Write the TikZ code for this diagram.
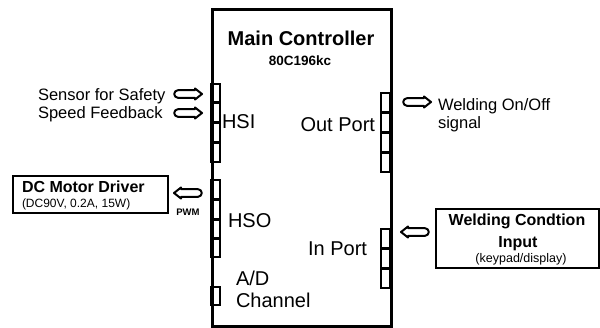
\documentclass[tikz,border=0pt]{standalone}
\usepackage{fontspec}
\setmainfont{Liberation Sans}
\newcommand\fsz[1]{\fontsize{#1}{#1}\selectfont}
\tikzset{
  lbl/.style={inner sep=0pt, outer sep=0pt},
  mainbox/.style={draw, line width=3pt},
  sidebox/.style={draw, line width=1.8pt},
  pinrect/.style={draw, line width=1.6pt},
  barrow/.pic={\draw[line width=2pt, line join=round]
     (5,-3.8) -- (22,-3.8) -- (22,-5.5) -- (29,0) -- (22,5.5) -- (22,3.8) -- (5,3.8)
     arc[start angle=90, end angle=270, radius=3.8] -- cycle;}
}
\begin{document}
\begin{tikzpicture}[x=1pt,y=-1pt]
\useasboundingbox (0,0) rectangle (600,327);
% main controller
\node[mainbox, minimum width=179pt, minimum height=317pt, anchor=north west, inner sep=0pt] (mc) at (211,8) {};
\node[lbl, anchor=base, font=\fsz{20}\bfseries] (title) at (301,45) {Main Controller};
\node[lbl, anchor=base, font=\fsz{13.5}\bfseries] (chip) at (300,65) {80C196kc};
% pins left
\foreach \a/\b in {84/102,103/122,123/142,143/162,180/199,200/219,220/238,239/257,287/305}
  \draw[pinrect] (211,\a) rectangle (220,\b);
% pins right
\foreach \a/\b in {93/112,113/132,133/152,153/172,229/248,249/268,269/288}
  \draw[pinrect] (381,\a) rectangle (390,\b);
% port labels
\node[lbl, anchor=base west, font=\fsz{20}] (hsi) at (222,128) {HSI};
\node[lbl, anchor=base east, font=\fsz{20}] (outp) at (375,131) {Out Port};
\node[lbl, anchor=base west, font=\fsz{20}] (hso) at (228,227) {HSO};
\node[lbl, anchor=base east, font=\fsz{20}] (inp) at (367,255) {In Port};
\node[lbl, anchor=base west, font=\fsz{20}] (ad) at (236,285) {A/D};
\node[lbl, anchor=base west, font=\fsz{20}] (chan) at (236,307) {Channel};
% left inputs
\node[lbl, anchor=base west, font=\fsz{16.5}] (sens) at (38,100) {Sensor for Safety};
\node[lbl, anchor=base west, font=\fsz{16.5}] (speed) at (38,118) {Speed Feedback};
\coordinate (a1) at (173,94);
\coordinate (a2) at (173,113);
\pic at (a1) {barrow};
\pic at (a2) {barrow};
% output signal
\coordinate (a3) at (402,102);
\pic at (a3) {barrow};
\node[lbl, anchor=base west, font=\fsz{16.5}] (weld) at (438,110) {Welding On/Off};
\node[lbl, anchor=base west, font=\fsz{16.5}] (sig) at (438,128) {signal};
% DC motor driver
\node[sidebox, minimum width=155pt, minimum height=37pt, anchor=north west, inner sep=0pt] (dcbox) at (12,175) {};
\node[lbl, anchor=base west, font=\fsz{16}\bfseries] (dct) at (22,192) {DC Motor Driver};
\node[lbl, anchor=base west, font=\fsz{12}] (dcs) at (22,207) {(DC90V, 0.2A, 15W)};
\coordinate (a4) at (203,193);
\pic[xscale=-1] at (a4) {barrow};
\node[lbl, anchor=base, font=\fsz{9.5}\bfseries] (pwm) at (188,215) {PWM};
% welding condition input
\node[sidebox, minimum width=163pt, minimum height=59pt, anchor=north west, inner sep=0pt] (wbox) at (435,208) {};
\node[lbl, anchor=base, font=\fsz{16}\bfseries] (wt1) at (517,225) {Welding Condtion};
\node[lbl, anchor=base, font=\fsz{16}\bfseries] (wt2) at (518,247) {Input};
\node[lbl, anchor=base, font=\fsz{12.5}] (wt3) at (521,262) {(keypad/display)};
\coordinate (a5) at (430,232);
\pic[xscale=-1] at (a5) {barrow};
\end{tikzpicture}
\end{document}
